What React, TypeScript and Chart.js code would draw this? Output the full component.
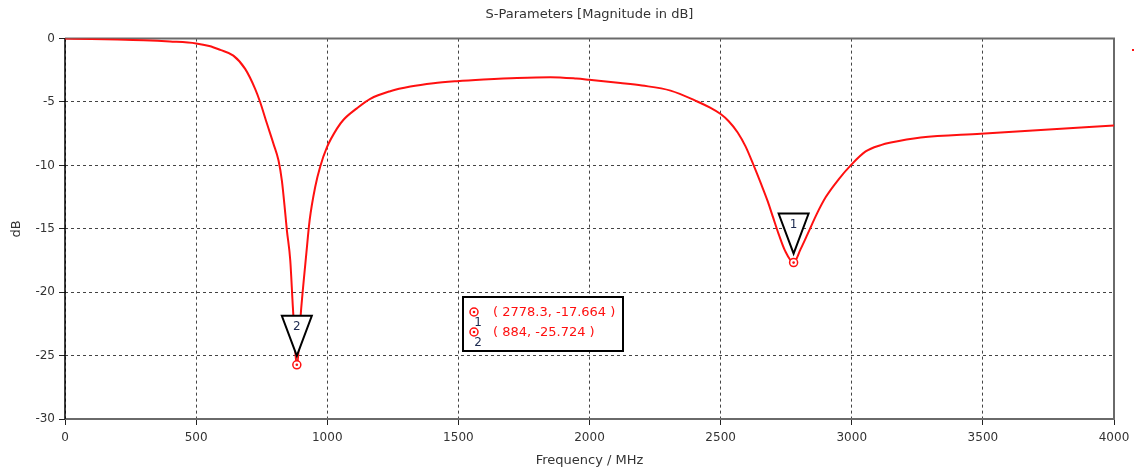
import React, { useEffect, useRef } from 'react';
import { Chart, registerables } from 'chart.js';

Chart.register(...registerables);

const chartTitle = 'S-Parameters [Magnitude in dB]';
const xAxisTitle = 'Frequency / MHz';
const yAxisTitle = 'dB';

const frequencies = [
  0, 100, 200, 300, 400, 500, 550, 592, 642, 687, 725, 744, 770, 795, 814, 827, 840, 846, 859, 869,
  884, 901, 920, 933, 954, 973, 999, 1037, 1062, 1113, 1164, 1240, 1317, 1405, 1495, 1596, 1724,
  1851, 1950, 2000, 2118, 2200, 2309, 2411, 2460, 2500, 2530, 2565, 2595, 2626, 2655, 2679, 2700,
  2721, 2745, 2778.3, 2805, 2832, 2865, 2901, 2950, 2996, 3053, 3111, 3149, 3263, 3492, 3721, 4000,
];
const magnitudes = [
  0, -0.03, -0.07, -0.13, -0.23, -0.38, -0.58, -0.89, -1.34, -2.39, -3.96, -5.0, -6.7, -8.3, -9.6,
  -11.2, -13.8, -15.1, -17.5, -21.2, -25.724, -21.2, -17.0, -14.3, -11.7, -10.1, -8.56, -7.1,
  -6.4, -5.5, -4.75, -4.15, -3.78, -3.52, -3.36, -3.23, -3.1, -3.04, -3.15, -3.25, -3.5, -3.7,
  -4.1, -4.96, -5.45, -5.95, -6.5, -7.4, -8.5, -10.0, -11.5, -12.8, -14.1, -15.4, -16.7, -17.664,
  -16.6, -15.4, -13.9, -12.5, -11.1, -10.0, -8.9, -8.4, -8.2, -7.8, -7.5, -7.2, -6.85,
];

const xTickValues = [0, 500, 1000, 1500, 2000, 2500, 3000, 3500, 4000];
const yTickValues = [0, -5, -10, -15, -20, -25, -30];

const markerIds = ['1', '2'];
const markerFreqs = [2778.3, 884];
const markerValues = [-17.664, -25.724];
const markerTexts = ['( 2778.3, -17.664 )', '( 884, -25.724 )'];

const FONT = '"DejaVu Sans", Verdana, sans-serif';
const RED = '#ff1010';

function drawMarkerCircle(ctx: CanvasRenderingContext2D, cx: number, cy: number) {
  ctx.beginPath();
  ctx.arc(cx, cy, 4, 0, Math.PI * 2);
  ctx.fillStyle = '#fff';
  ctx.fill();
  ctx.lineWidth = 1.5;
  ctx.strokeStyle = RED;
  ctx.stroke();
  ctx.beginPath();
  ctx.arc(cx, cy, 1.3, 0, Math.PI * 2);
  ctx.fillStyle = RED;
  ctx.fill();
}

const framePlugin = {
  id: 'frame',
  beforeDatasetsDraw(chart: any) {
    const { ctx, chartArea: a } = chart;
    ctx.save();
    ctx.lineWidth = 2;
    ctx.strokeStyle = '#6a6a6a';
    ctx.beginPath();
    ctx.moveTo(a.left, a.top);
    ctx.lineTo(a.right, a.top);
    ctx.lineTo(a.right, a.bottom);
    ctx.lineTo(a.left, a.bottom);
    ctx.stroke();
    ctx.lineWidth = 1.5;
    ctx.strokeStyle = '#000';
    ctx.beginPath();
    ctx.moveTo(a.left, a.top);
    ctx.lineTo(a.left, a.bottom);
    ctx.stroke();
    ctx.restore();
  },
};

const markerPlugin = {
  id: 'markers',
  afterDatasetsDraw(chart: any) {
    const { ctx, scales } = chart;
    const xs = scales.x;
    const ys = scales.y;
    ctx.save();
    markerIds.forEach((id, i) => {
      const px = xs.getPixelForValue(markerFreqs[i]);
      const py = ys.getPixelForValue(markerValues[i]);
      drawMarkerCircle(ctx, px, py);
      const tipY = py - 9;
      const topY = py - 49;
      ctx.beginPath();
      ctx.moveTo(px, tipY);
      ctx.lineTo(px - 15, topY);
      ctx.lineTo(px + 15, topY);
      ctx.closePath();
      ctx.fillStyle = '#fff';
      ctx.fill();
      ctx.lineWidth = 2;
      ctx.strokeStyle = '#000';
      ctx.lineJoin = 'miter';
      ctx.stroke();
      ctx.fillStyle = '#1c2a50';
      ctx.font = `12px ${FONT}`;
      ctx.textAlign = 'center';
      ctx.textBaseline = 'middle';
      ctx.fillText(id, px, topY + 11);
    });

    // marker table
    const bx = 463;
    const by = 297;
    const bw = 160;
    const bh = 54;
    ctx.fillStyle = '#fff';
    ctx.fillRect(bx, by, bw, bh);
    ctx.lineWidth = 2;
    ctx.strokeStyle = '#000';
    ctx.strokeRect(bx, by, bw, bh);
    markerIds.forEach((id, i) => {
      const rowY = by + 15 + i * 20;
      drawMarkerCircle(ctx, bx + 11, rowY);
      ctx.fillStyle = '#1c2a50';
      ctx.font = `12px ${FONT}`;
      ctx.textAlign = 'center';
      ctx.textBaseline = 'middle';
      ctx.fillText(id, bx + 15, rowY + 11);
      ctx.fillStyle = RED;
      ctx.font = `13px ${FONT}`;
      ctx.textAlign = 'left';
      ctx.fillText(markerTexts[i], bx + 30, rowY + 1);
    });

    // small red legend dot outside the plot
    ctx.fillStyle = RED;
    ctx.fillRect(1132, 49, 2, 2);
    ctx.restore();
  },
};

export default function App() {
  const canvasRef = useRef<HTMLCanvasElement | null>(null);

  useEffect(() => {
    document.body.style.margin = '0';
    const canvas = canvasRef.current;
    if (!canvas) return;
    const chart = new Chart(canvas, {
      type: 'line',
      data: {
        datasets: [
          {
            data: frequencies.map((f, i) => ({ x: f, y: magnitudes[i] })),
            borderColor: RED,
            borderWidth: 2,
            pointRadius: 0,
            cubicInterpolationMode: 'monotone',
            fill: false,
          },
        ],
      },
      options: {
        animation: false,
        responsive: false,
        maintainAspectRatio: false,
        layout: { padding: { left: 0, right: 22, top: 0, bottom: 0 } },
        plugins: {
          legend: { display: false },
          tooltip: { enabled: false },
          title: {
            display: true,
            fullSize: false,
            text: chartTitle,
            color: '#333',
            font: { family: FONT, size: 13, weight: 'normal' },
            padding: { top: 7, bottom: 16 },
          },
        },
        scales: {
          x: {
            type: 'linear',
            min: 0,
            max: 4000,
            afterBuildTicks: (scale: any) => {
              scale.ticks = xTickValues.map((v) => ({ value: v }));
            },
            afterFit: (scale: any) => {
              scale.height = 52;
            },
            ticks: {
              color: '#333',
              font: { family: FONT, size: 12 },
              padding: 6,
              maxRotation: 0,
              autoSkip: false,
              callback: (v: any) => String(v),
            },
            grid: {
              color: '#444',
              lineWidth: 1,
              tickLength: 6,
              tickColor: '#222',
              tickBorderDash: [],
            },
            border: { display: false, dash: [3, 3] },
            title: {
              display: true,
              text: xAxisTitle,
              color: '#333',
              font: { family: FONT, size: 13 },
              padding: { top: 0, bottom: 3 },
            },
          },
          y: {
            type: 'linear',
            min: -30,
            max: 0,
            afterBuildTicks: (scale: any) => {
              scale.ticks = yTickValues.map((v) => ({ value: v }));
            },
            afterFit: (scale: any) => {
              scale.width = 65;
            },
            ticks: {
              color: '#333',
              font: { family: FONT, size: 12 },
              padding: 4,
              autoSkip: false,
              callback: (v: any) => String(v),
            },
            grid: {
              color: '#444',
              lineWidth: 1,
              tickLength: 6,
              tickColor: '#222',
              tickBorderDash: [],
            },
            border: { display: false, dash: [3, 3] },
            title: {
              display: true,
              text: yAxisTitle,
              color: '#333',
              font: { family: FONT, size: 13 },
              padding: { top: 9, bottom: 9 },
            },
          },
        },
      },
      plugins: [framePlugin, markerPlugin],
    } as any);
    return () => chart.destroy();
  }, []);

  return (
    <div style={{ position: 'absolute', left: 0, top: 0, width: 1136, height: 471, background: '#fff' }}>
      <canvas ref={canvasRef} width={1136} height={471} style={{ display: 'block' }} />
    </div>
  );
}
